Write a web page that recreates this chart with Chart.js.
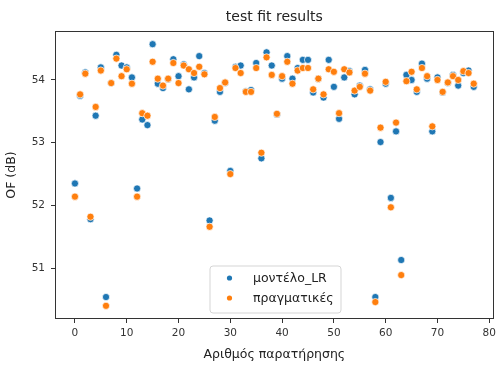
<!DOCTYPE html>
<html>
<head>
<meta charset="utf-8">
<script src="https://cdn.jsdelivr.net/npm/chart.js@4.4.0/dist/chart.umd.min.js"></script>
<style>
  html, body { margin: 0; padding: 0; background: #fff; }
</style>
</head>
<body>
<canvas id="chart" width="500" height="365"></canvas>
<script>
// observation index (x axis)
const observations = [
  0, 1, 2, 3, 4, 5, 6, 7, 8, 9, 10, 11, 12, 13, 14, 15, 16, 17, 18, 19,
  20, 21, 22, 23, 24, 25, 26, 27, 28, 29, 30, 31, 32, 33, 34, 35, 36, 37, 38, 39,
  40, 41, 42, 43, 44, 45, 46, 47, 48, 49, 50, 51, 52, 53, 54, 55, 56, 57, 58, 59,
  60, 61, 62, 63, 64, 65, 66, 67, 68, 69, 70, 71, 72, 73, 74, 75, 76, 77
];

// LR model prediction (blue)
const modelLR = [
  52.35, 53.75, 54.12, 51.78, 53.43, 54.20, 50.54, 53.95, 54.40, 54.23,
  54.20, 54.04, 52.27, 53.37, 53.28, 54.57, 53.94, 53.87, 54.01, 54.33,
  54.06, 54.25, 53.85, 54.04, 54.38, 54.11, 51.76, 53.35, 53.81, 53.95,
  52.55, 54.21, 54.23, 53.82, 53.84, 54.27, 52.75, 54.44, 54.23, 53.45,
  54.02, 54.38, 54.02, 54.19, 54.32, 54.32, 53.80, 54.02, 53.72, 54.32,
  53.89, 53.38, 54.04, 54.14, 53.77, 53.91, 54.16, 53.85, 50.54, 53.01,
  53.94, 52.12, 53.18, 51.13, 54.08, 54.00, 53.81, 54.26, 54.02, 53.18,
  54.04, 53.80, 53.95, 54.08, 53.91, 54.11, 54.15, 53.89
];

// measured values (orange)
const actual = [
  52.14, 53.77, 54.10, 51.82, 53.57, 54.15, 50.40, 53.95, 54.34, 54.06,
  54.17, 53.94, 52.14, 53.47, 53.43, 54.29, 54.02, 53.91, 54.02, 54.27,
  53.95, 54.23, 54.17, 54.11, 54.21, 54.09, 51.66, 53.41, 53.87, 53.96,
  52.50, 54.19, 54.11, 53.81, 53.81, 54.19, 52.84, 54.36, 54.08, 53.46,
  54.06, 54.29, 53.94, 54.15, 54.19, 54.19, 53.85, 54.02, 53.77, 54.17,
  54.13, 53.47, 54.17, 54.12, 53.83, 53.89, 54.10, 53.83, 50.46, 53.24,
  53.97, 51.97, 53.32, 50.89, 53.98, 54.13, 53.85, 54.19, 54.06, 53.26,
  54.00, 53.81, 53.96, 54.06, 54.00, 54.14, 54.11, 53.94
];

const xTicks = [0, 10, 20, 30, 40, 50, 60, 70, 80];
const yTicks = [51, 52, 53, 54];
const seriesNames = ['μοντέλο_LR', 'πραγματικές'];
const seriesColors = ['#1f77b4', '#ff7f0e'];
const chartTitle = 'test fit results';

const FONT = "'DejaVu Sans', sans-serif";

// Frame, title and the legend inside the plot (matplotlib style)
const framePlugin = {
  id: 'frameAndLegend',
  afterDraw(chart) {
    const ctx = chart.ctx;
    const a = chart.chartArea;
    ctx.save();

    // frame around the axes
    ctx.strokeStyle = '#333';
    ctx.lineWidth = 1;
    ctx.strokeRect(Math.round(a.left) + 0.5, Math.round(a.top) + 0.5,
                   Math.round(a.right - a.left) - 1, Math.round(a.bottom - a.top) - 1);

    // title centered over the plot
    ctx.fillStyle = '#222';
    ctx.font = '14px ' + FONT;
    ctx.textAlign = 'center';
    ctx.textBaseline = 'middle';
    ctx.fillText(chartTitle, (a.left + a.right) / 2, 17);

    // legend box
    const bx = 210, by = 266, bw = 131, bh = 47, r = 3;
    ctx.beginPath();
    ctx.moveTo(bx + r, by);
    ctx.arcTo(bx + bw, by, bx + bw, by + bh, r);
    ctx.arcTo(bx + bw, by + bh, bx, by + bh, r);
    ctx.arcTo(bx, by + bh, bx, by, r);
    ctx.arcTo(bx, by, bx + bw, by, r);
    ctx.closePath();
    ctx.fillStyle = 'rgba(255,255,255,0.8)';
    ctx.fill();
    ctx.strokeStyle = '#d5d5d5';
    ctx.stroke();

    ctx.font = '12.5px ' + FONT;
    ctx.textAlign = 'left';
    seriesNames.forEach((name, i) => {
      const cy = 278 + i * 20;
      ctx.beginPath();
      ctx.arc(229.5, cy, 2.6, 0, Math.PI * 2);
      ctx.fillStyle = seriesColors[i];
      ctx.fill();
      ctx.fillStyle = '#222';
      ctx.fillText(name, 253, cy + 1);
    });

    ctx.restore();
  }
};

const ctx = document.getElementById('chart').getContext('2d');
new Chart(ctx, {
  type: 'scatter',
  data: {
    datasets: [
      {
        label: seriesNames[0],
        data: observations.map((x, i) => ({ x: x, y: modelLR[i] })),
        backgroundColor: seriesColors[0],
        borderColor: '#ffffff',
        borderWidth: 0.7,
        pointRadius: 3.6,
        order: 2
      },
      {
        label: seriesNames[1],
        data: observations.map((x, i) => ({ x: x, y: actual[i] })),
        backgroundColor: seriesColors[1],
        borderColor: '#ffffff',
        borderWidth: 0.7,
        pointRadius: 3.6,
        order: 1
      }
    ]
  },
  options: {
    responsive: false,
    animation: false,
    layout: { padding: { left: 0, top: 31, right: 3, bottom: 0 } },
    plugins: {
      legend: { display: false },
      title: { display: false },
      tooltip: { enabled: false }
    },
    scales: {
      x: {
        type: 'linear',
        min: -3.85,
        max: 80.85,
        afterBuildTicks: (scale) => { scale.ticks = xTicks.map(v => ({ value: v })); },
        afterFit: (scale) => { scale.height = 46; },
        border: { display: false },
        grid: { drawOnChartArea: false, drawTicks: true, tickLength: 4, color: '#333' },
        ticks: { color: '#333', padding: 4, maxRotation: 0, font: { family: FONT, size: 10.5 } },
        title: {
          display: true,
          text: 'Αριθμός παρατήρησης',
          color: '#222',
          font: { family: FONT, size: 12.5 },
          padding: { top: 2, bottom: 3 }
        }
      },
      y: {
        type: 'linear',
        min: 50.19,
        max: 54.78,
        afterBuildTicks: (scale) => { scale.ticks = yTicks.map(v => ({ value: v })); },
        afterFit: (scale) => { scale.width = 55; },
        border: { display: false },
        grid: { drawOnChartArea: false, drawTicks: true, tickLength: 4, color: '#333' },
        ticks: { color: '#333', padding: 6, font: { family: FONT, size: 10.5 } },
        title: {
          display: true,
          text: 'OF (dB)',
          color: '#222',
          font: { family: FONT, size: 12.5 },
          padding: { top: 4, bottom: 4 }
        }
      }
    }
  },
  plugins: [framePlugin]
});
</script>
</body>
</html>
